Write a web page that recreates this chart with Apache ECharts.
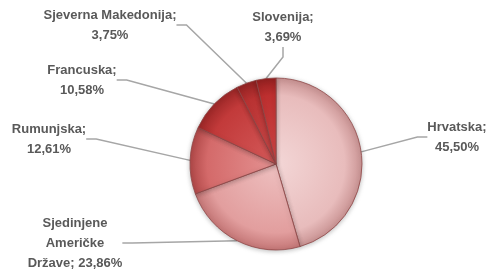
<!DOCTYPE html>
<html>
<head>
<meta charset="utf-8">
<script src="https://cdn.jsdelivr.net/npm/echarts@6/dist/echarts.min.js"></script>
<style>
  html, body { margin: 0; padding: 0; background: #fff; }
  #chart { width: 487px; height: 273px; }
</style>
</head>
<body>
<div id="chart"></div>
<script>
// podaci
const countries = ['Hrvatska', 'Sjedinjene Američke Države', 'Rumunjska', 'Francuska', 'Sjeverna Makedonija', 'Slovenija']
const shares = [45.50, 23.86, 12.61, 10.58, 3.75, 3.69]
const labelTexts = ['Hrvatska;\n45,50%', 'Sjedinjene\nAmeričke\nDržave; 23,86%', 'Rumunjska;\n12,61%', 'Francuska;\n10,58%', 'Sjeverna Makedonija;\n3,75%', 'Slovenija;\n3,69%']

// boje kriški (svjetlija sredina, tamniji rub)
const sliceColors = [
  ['#f3d6d6', '#e8bcbc', '#c99393'],
  ['#eec0c0', '#e29e9e', '#c47676'],
  ['#e49292', '#d46a6a', '#b04848'],
  ['#d45a5a', '#c23a3a', '#9c2727'],
  ['#cc4c4c', '#b93232', '#922222'],
  ['#d04848', '#bd2f2f', '#942020']
]

// položaji oznaka (središte teksta)
const labelPos = [[457, 137], [75, 243], [49, 139], [82, 80], [110, 25], [283, 27]]

const cx = 276, cy = 164, R = 86

const chart = echarts.init(document.getElementById('chart'))

const options = {
  animation: false,
  series: [
    {
      type: 'pie',
      center: [cx, cy],
      radius: [0, R],
      startAngle: 90,
      clockwise: true,
      data: countries.map((name, i) => ({
        name: name,
        value: shares[i],
        itemStyle: {
          color: {
            type: 'radial',
            x: cx, y: cy, r: R,
            global: true,
            colorStops: [
              { offset: 0, color: sliceColors[i][0] },
              { offset: 0.8, color: sliceColors[i][1] },
              { offset: 1, color: sliceColors[i][2] }
            ]
          }
        },
        label: { formatter: labelTexts[i] }
      })),
      itemStyle: {
        borderColor: '#8e4646',
        borderWidth: 0.8,
        shadowColor: 'rgba(0,0,0,0.25)',
        shadowBlur: 5,
        shadowOffsetY: 1
      },
      label: {
        show: true,
        position: 'outside',
        fontFamily: 'Liberation Sans',
        fontWeight: 'bold',
        fontSize: 13,
        lineHeight: 20,
        color: '#595959'
      },
      labelLine: {
        show: true,
        length: 10,
        length2: 10,
        lineStyle: { color: '#a6a6a6', width: 1.5 }
      },
      labelLayout: function (params) {
        const p = labelPos[params.dataIndex]
        return {
          x: p[0],
          y: p[1],
          align: 'center',
          verticalAlign: 'middle'
        }
      }
    }
  ]
}

chart.setOption(options)
</script>
</body>
</html>
